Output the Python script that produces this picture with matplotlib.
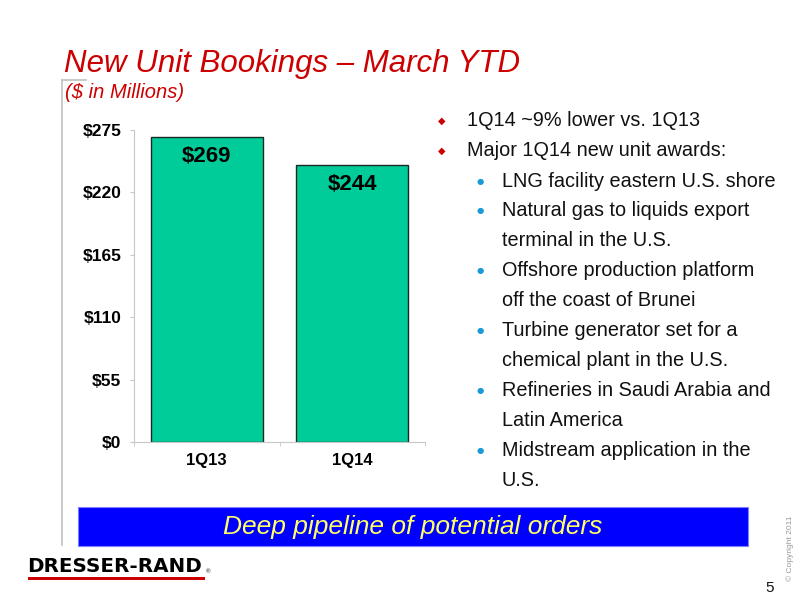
import matplotlib.pyplot as plt
from matplotlib.patches import Rectangle
from matplotlib.lines import Line2D

quarters = ['1Q13', '1Q14']
bookings = [269, 244]
y_ticks = [0, 55, 110, 165, 220, 275]

bullets = ['1Q14 ~9% lower vs. 1Q13', 'Major 1Q14 new unit awards:']
awards = [
    ['LNG facility eastern U.S. shore'],
    ['Natural gas to liquids export', 'terminal in the U.S.'],
    ['Offshore production platform', 'off the coast of Brunei'],
    ['Turbine generator set for a', 'chemical plant in the U.S.'],
    ['Refineries in Saudi Arabia and', 'Latin America'],
    ['Midstream application in the', 'U.S.'],
]

plt.rcParams['font.family'] = ['Liberation Sans', 'DejaVu Sans']

W, H = 800, 600
fig = plt.figure(figsize=(8, 6), dpi=100)


def fx(px):
    return px / W


def fy(py):
    return 1 - py / H


# chart
ax = fig.add_axes([fx(134), fy(442), fx(425) - fx(134), fy(130) - fy(442)])
ax.bar(range(len(quarters)), bookings, width=0.77, color='#00CC99',
       edgecolor='#1a2a22', linewidth=1.0)
for i, v in enumerate(bookings):
    ax.text(i, v - 8, '$%d' % v, ha='center', va='top', fontsize=16,
            fontweight='bold', color='black')
ax.set_xlim(-0.5, 1.5)
ax.set_ylim(0, 275)
ax.set_yticks(y_ticks)
ax.set_yticklabels(['$%d' % t for t in y_ticks], fontsize=12.5, fontweight='bold')
ax.set_xticks([0, 1])
ax.set_xticklabels(quarters, fontsize=12, fontweight='bold')
ax.set_xticks([-0.5, 0.5, 1.5], minor=True)
ax.tick_params(axis='x', which='major', length=0, pad=8)
ax.tick_params(axis='x', which='minor', length=3, color='#c8c8c8', direction='out')
ax.tick_params(axis='y', length=3, color='#c8c8c8', pad=6)
for s in ['top', 'right']:
    ax.spines[s].set_visible(False)
for s in ['left', 'bottom']:
    ax.spines[s].set_color('#c8c8c8')

# title
fig.text(fx(64), fy(64), 'New Unit Bookings \u2013 March YTD', fontsize=22.5,
         style='italic', color='#cc0000', va='center')
fig.text(fx(65), fy(93), '($ in Millions)', fontsize=14.5,
         style='italic', color='#cc0000', va='center')

# frame lines
fig.add_artist(Line2D([fx(62), fx(62)], [fy(80), fy(545)], color='#c0c0c0', lw=1.2))
fig.add_artist(Line2D([fx(62), fx(86)], [fy(80), fy(80)], color='#c0c0c0', lw=1.2))

# bullet text
y = 121
for b in bullets:
    fig.text(fx(442), fy(y), '\u25c6', fontsize=7, color='#cc0000',
             ha='center', va='center', family='DejaVu Sans')
    fig.text(fx(467), fy(y), b, fontsize=14.3, va='center', color='#111111')
    y += 30
for item in awards:
    fig.text(fx(480), fy(y), '\u25cf', fontsize=6, color='#1a9ad6',
             ha='center', va='center', family='DejaVu Sans')
    for line in item:
        fig.text(fx(502), fy(y), line, fontsize=14.3, va='center', color='#111111')
        y += 30

# blue banner
fig.add_artist(Rectangle((fx(78), fy(546)), fx(748) - fx(78), fy(507) - fy(546),
                         facecolor='#0000ff', edgecolor='#8080ff', lw=0.8))
fig.text(fx(413), fy(527), 'Deep pipeline of potential orders', fontsize=19,
         style='italic', color='#ffff66', ha='center', va='center')

# logo
fig.text(fx(27), fy(566), 'DRESSER-RAND', fontsize=14.3, fontweight='bold',
         family='DejaVu Sans', va='center', color='black')
fig.text(fx(206), fy(572), '\u00ae', fontsize=4.5, va='center', color='black')
fig.add_artist(Rectangle((fx(28), fy(580)), fx(205) - fx(28), fy(577) - fy(580),
                         facecolor='#cc0000', edgecolor='none'))

# copyright and page number
fig.text(fx(790), fy(548), '\u00a9 Copyright 2011', fontsize=6, rotation=90,
         color='#999999', ha='center', va='center')
fig.text(fx(770), fy(588), '5', fontsize=11, ha='center', va='center', color='#111111')

fig.savefig('out.png', dpi=100)
